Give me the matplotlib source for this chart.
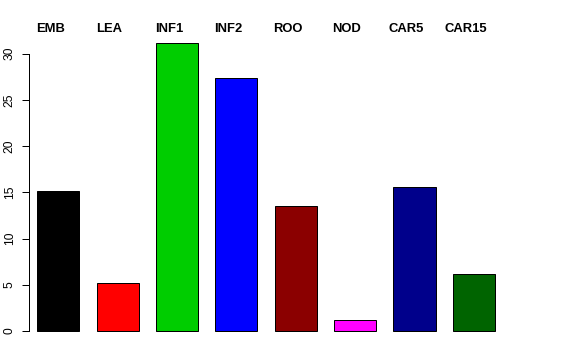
import matplotlib
matplotlib.use("Agg")
import matplotlib.pyplot as plt
import numpy as np

plt.rcParams['font.family'] = ['Liberation Sans', 'DejaVu Sans']

# tissue labels, values and bar colours
labels = ['EMB', 'LEA', 'INF1', 'INF2', 'ROO', 'NOD', 'CAR5', 'CAR15']
values = [15.13, 5.22, 31.17, 27.3, 13.48, 1.19, 15.53, 6.13]
colors = ['black', 'red', '#00CD00', 'blue', '#8B0000', 'magenta', '#00008B', '#006400']
yticks = [0, 5, 10, 15, 20, 25, 30]

fig = plt.figure(figsize=(8, 5), dpi=72)
# axes placed in pixel terms of a 576x360 canvas
left, right = 29.3 / 576, 513 / 576
bottom, top = (360 - 342.6) / 360, (360 - 31.3) / 360
ax = fig.add_axes([left, bottom, right - left, top - bottom])

x = np.arange(len(labels))
ax.bar(x, values, width=0.71, color=colors, edgecolor='black', linewidth=1)

ax.set_xlim(-0.49, 7.66)
ax.set_ylim(-1.25, 32.4)

for s in ['top', 'right', 'bottom']:
    ax.spines[s].set_visible(False)
ax.spines['left'].set_bounds(0, 30)
ax.spines['left'].set_linewidth(1)
ax.set_xticks([])
ax.set_yticks(yticks)
ax.set_yticklabels([str(t) for t in yticks], rotation=90, va='center', fontsize=12)
ax.tick_params(axis='y', length=7.5, width=1, pad=6)

for i, lab in enumerate(labels):
    ax.text(i - 0.14, 32.6, lab, ha='center', va='center', fontsize=13,
            fontweight='bold', clip_on=False)

fig.savefig('out.png', dpi=72)
